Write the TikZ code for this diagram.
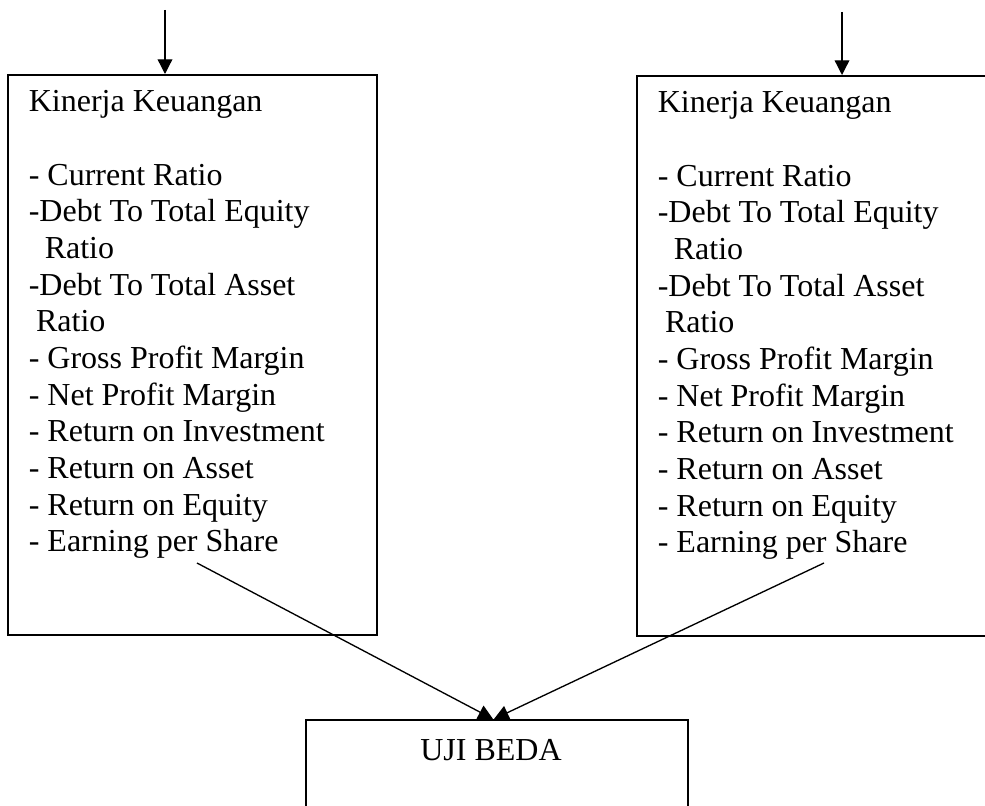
\documentclass[tikz,border=0pt]{standalone}
\usepackage{fontspec}
\setmainfont{Liberation Serif}
\usepackage{tikz}
\usetikzlibrary{calc, arrows.meta, positioning}

\newcommand{\isiKinerja}{%
    \parbox[t][396pt][t]{245.25pt}{\raggedright
        Kinerja Keuangan\\[27.5pt]
        - Current Ratio\\
        -Debt To Total Equity\\
        \hspace*{12pt}Ratio\\
        -Debt To Total Asset\\
        \hspace*{5.5pt}Ratio\\
        - Gross Profit Margin\\
        - Net Profit Margin\\
        - Return on Investment\\
        - Return on Asset\\
        - Return on Equity\\
        - Earning per Share}}

\tikzset{
    kotak/.style={draw, line width=1.2pt, anchor=north west, inner xsep=15.75pt, inner ysep=12pt,
        font=\fontsize{24pt}{27.5pt}\selectfont},
    kotakuji/.style={draw, line width=1.2pt, anchor=north, inner sep=0pt, minimum width=286.5pt,
        text height=30.75pt, text depth=112.5pt, font=\fontsize{24pt}{27.5pt}\selectfont},
    panah/.style={->, line width=1pt}
}

\begin{document}
\begin{tikzpicture}[>={Triangle[length=11pt, width=11pt]}, x=0.75pt, y=-0.75pt]
    % 0. Khung hình
    \useasboundingbox (0,0) rectangle (985,806);
    \clip (0,0) rectangle (985,806);

    % 1. Hai khối Kinerja Keuangan
    \node[kotak] (kiri) at (7,74) {\isiKinerja};
    \node[kotak] (kanan) at (636,75) {\isiKinerja};

    % 2. Khối UJI BEDA (bị cắt ở mép dưới)
    \node[kotakuji] (uji) at (497,719) {UJI BEDA\hspace*{9pt}};

    % 3. Mũi tên đi vào từ phía trên
    \coordinate (pangkalKiri) at (165,10);
    \coordinate (pangkalKanan) at (842,12);
    \draw[panah] (pangkalKiri) -- (pangkalKiri |- kiri.north);
    \draw[panah] (pangkalKanan) -- (pangkalKanan |- kanan.north);

    % 4. Mũi tên từ hai khối xuống UJI BEDA
    \coordinate (ujungKiri) at (197,563);
    \coordinate (ujungKanan) at (824,563);
    \draw[panah] (ujungKiri) -- ($(uji.north)+(-4,0)$);
    \draw[panah] (ujungKanan) -- ($(uji.north)+(-3,0)$);
\end{tikzpicture}
\end{document}
